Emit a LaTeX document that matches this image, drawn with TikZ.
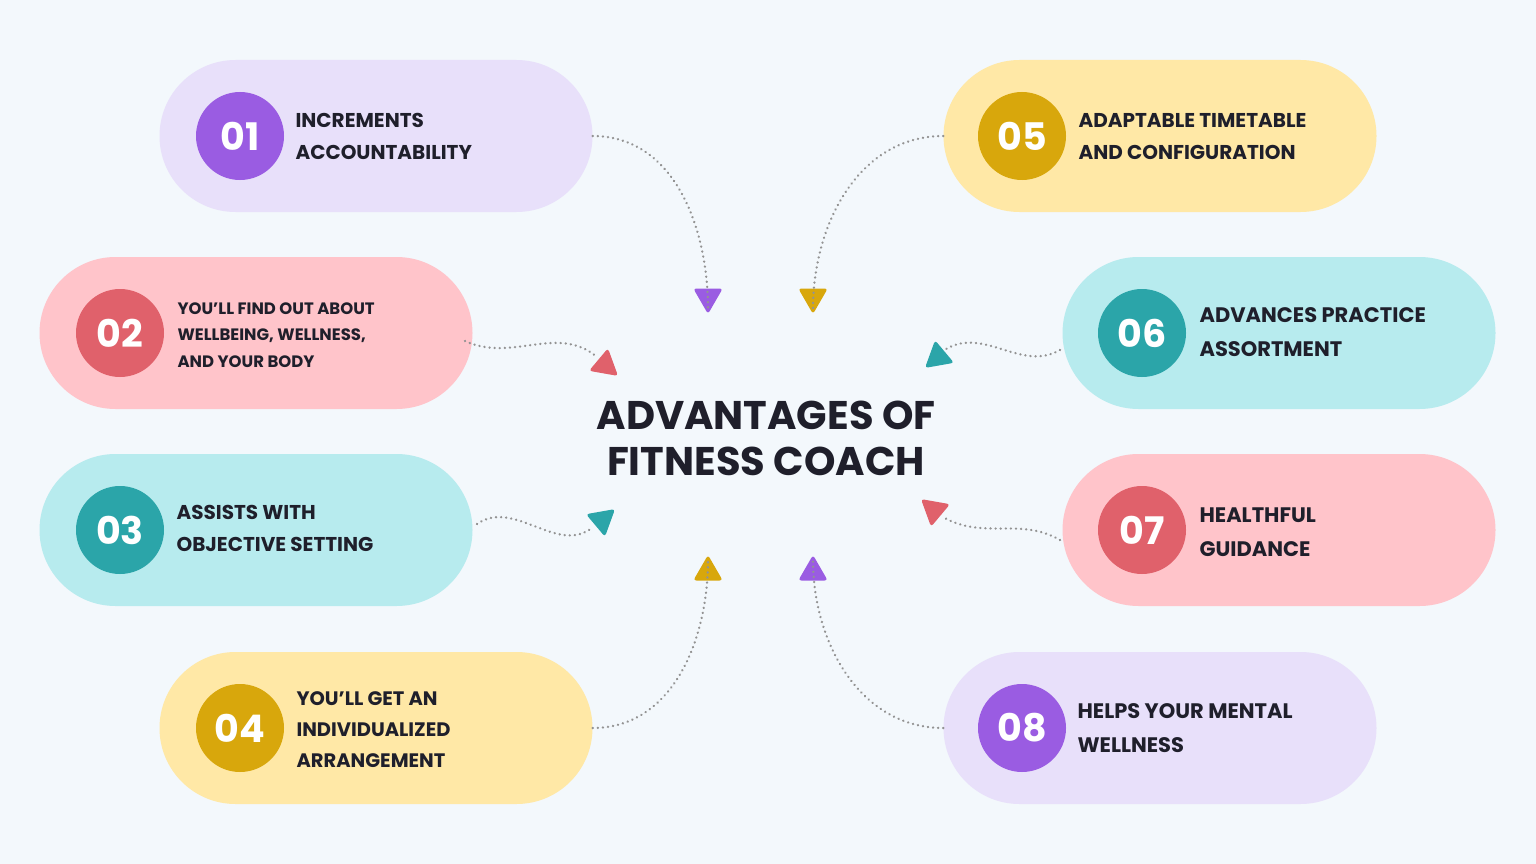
\documentclass[tikz,border=0pt]{standalone}
\usepackage{fontspec}
\setmainfont{Poppins}
\usetikzlibrary{shapes.geometric}
\definecolor{bg}{HTML}{F3F8FC}
\definecolor{pl}{HTML}{E8E0FA}\definecolor{pd}{HTML}{9A5CE2}
\definecolor{rl}{HTML}{FFC4CA}\definecolor{rd}{HTML}{E0616B}
\definecolor{cl}{HTML}{B7EBEE}\definecolor{cd}{HTML}{2BA5A9}
\definecolor{yl}{HTML}{FFE8A6}\definecolor{yd}{HTML}{D8A70C}
\definecolor{ink}{HTML}{1F1F2B}
\tikzset{
 pill/.style={rounded corners=76pt,minimum width=433pt,minimum height=152pt,inner sep=0},
 num/.style={circle,minimum size=88pt,inner sep=0,text=white,font=\bfseries\fontsize{38}{38}\selectfont},
 lbl/.style={anchor=west,align=left,text=ink,font=\bfseries\fontsize{20}{32}\selectfont},
 tri/.style={regular polygon,regular polygon sides=3,minimum size=34pt,inner sep=0,rounded corners=3pt},
 con/.style={draw=gray!85,line width=2.5pt,dash pattern=on 0.1pt off 5pt,line cap=round}
}
\begin{document}
\begin{tikzpicture}[x=1pt,y=-1pt]
\fill[bg] (0,0) rectangle (1536,864);
\useasboundingbox (0,0) rectangle (1536,864);
% pills
\node[pill,fill=pl] (p1) at (376,136) {};
\node[pill,fill=rl] (p2) at (256,333) {};
\node[pill,fill=cl] (p3) at (256,530) {};
\node[pill,fill=yl] (p4) at (376,728) {};
\node[pill,fill=yl] (p5) at (1160,136) {};
\node[pill,fill=cl] (p6) at (1279,333) {};
\node[pill,fill=rl] (p7) at (1279,530) {};
\node[pill,fill=pl] (p8) at (1160,728) {};
% circles
\node[num,fill=pd] (n1) at (240,136) {01};
\node[num,fill=rd] (n2) at (120,333) {02};
\node[num,fill=cd] (n3) at (120,530) {03};
\node[num,fill=yd] (n4) at (240,728) {04};
\node[num,fill=yd] (n5) at (1022,136) {05};
\node[num,fill=cd] (n6) at (1142,333) {06};
\node[num,fill=rd] (n7) at (1142,530) {07};
\node[num,fill=pd] (n8) at (1022,728) {08};
% labels
\node[lbl] (l1) at (292,136) {INCREMENTS\\ACCOUNTABILITY};
\node[lbl,font=\bfseries\fontsize{16.5}{26.5}\selectfont] (l2) at (174,335) {YOU’LL FIND OUT ABOUT\\WELLBEING, WELLNESS,\\AND YOUR BODY};
\node[lbl] (l3) at (173,528) {ASSISTS WITH\\OBJECTIVE SETTING};
\node[lbl,font=\bfseries\fontsize{19.5}{31}\selectfont] (l4) at (293,730) {YOU’LL GET AN\\INDIVIDUALIZED\\ARRANGEMENT};
\node[lbl] (l5) at (1075,137) {ADAPTABLE TIMETABLE\\AND CONFIGURATION};
\node[lbl,font=\bfseries\fontsize{21}{34}\selectfont] (l6) at (1196,332) {ADVANCES PRACTICE\\ASSORTMENT};
\node[lbl,font=\bfseries\fontsize{21}{34}\selectfont] (l7) at (1196,532) {HEALTHFUL\\GUIDANCE};
\node[lbl,font=\bfseries\fontsize{21}{34}\selectfont] (l8) at (1074,728) {HELPS YOUR MENTAL\\WELLNESS};
% title
\node[align=center,text=ink,font=\bfseries\fontsize{40}{46}\selectfont] (t) at (766,438) {ADVANTAGES OF\\FITNESS COACH};
% triangles
\node[tri,fill=pd,rotate=180] (a1) at (708,297) {};
\node[tri,fill=rd,rotate=-130] (a2) at (605,365) {};
\node[tri,fill=cd,rotate=-50] (a3) at (602,520) {};
\node[tri,fill=yd] (a4) at (708,572) {};
\node[tri,fill=yd,rotate=180] (a5) at (813,297) {};
\node[tri,fill=cd,rotate=130] (a6) at (938,357) {};
\node[tri,fill=rd,rotate=50] (a7) at (934,510) {};
\node[tri,fill=pd] (a8) at (813,572) {};
% connectors
\coordinate (s2) at (465,341);
\coordinate (s3) at (477,524);
\coordinate (s6) at (1060,350);
\coordinate (s7) at (1060,540);
\draw[con] (p1.east) to[out=0,in=90] ([yshift=-12pt]a1.center);
\draw[con] (s2) to[out=-25,in=140] ([shift={(-8,-8)}]a2.center);
\draw[con] (s3) to[out=35,in=-140] ([shift={(-9,7)}]a3.center);
\draw[con] (p4.east) to[out=0,in=-90] ([yshift=12pt]a4.center);
\draw[con] (p5.west) to[out=180,in=90] ([yshift=-12pt]a5.center);
\draw[con] (s6) to[out=-150,in=30] ([shift={(8,-8)}]a6.center);
\draw[con] (s7) to[out=150,in=-30] ([shift={(9,7)}]a7.center);
\draw[con] (p8.west) to[out=180,in=-90] ([yshift=12pt]a8.center);
\end{tikzpicture}
\end{document}
